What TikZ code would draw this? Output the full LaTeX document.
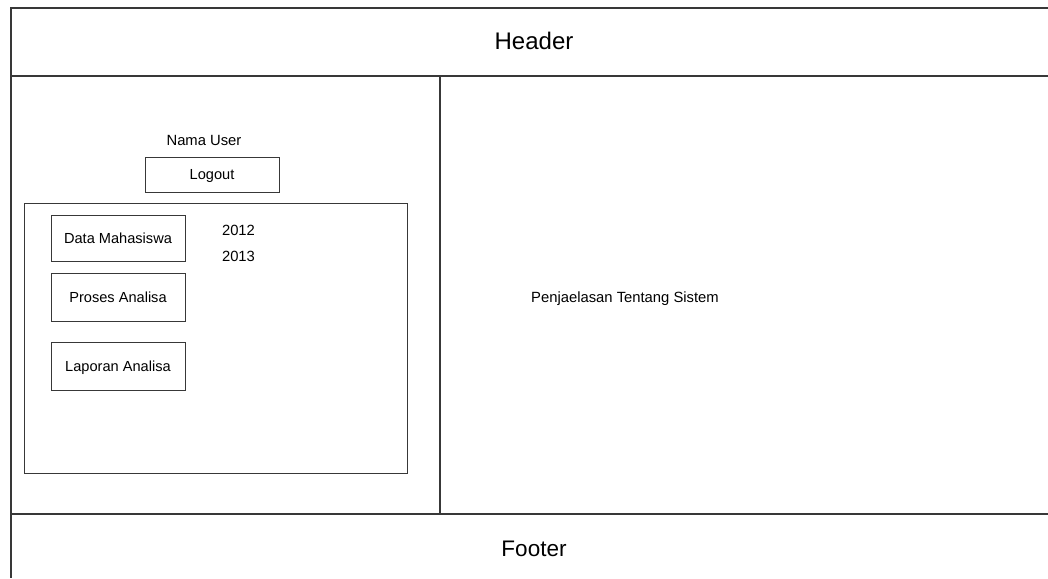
\documentclass[tikz,border=0pt]{standalone}
\usepackage{fontspec}
\setmainfont{Liberation Sans}
\begin{document}
\begin{tikzpicture}[x=1pt,y=-1pt,
  frameline/.style={draw=black!78,line width=1.1pt},
  wbox/.style={draw=black!78,line width=1pt,fill=white,inner sep=0pt,
    minimum width=134pt,font=\fontsize{14.6}{17}\selectfont,
    text height=10.5pt,text depth=0pt},
  lbl/.style={inner sep=0pt,font=\fontsize{14.8}{17}\selectfont,
    text height=10.6pt,text depth=0pt},
  big/.style={inner sep=0pt,font=\fontsize{24}{28}\selectfont,
    text height=17pt,text depth=0pt}]
\useasboundingbox (0,0) rectangle (1048,578);
\fill[white] (0,0) rectangle (1048,578);
% frame lines
\draw[frameline] (1048,8) -- (11,8) -- (11,578);
\draw[frameline] (11,76) -- (1048,76);
\draw[frameline] (11,514) -- (1048,514);
\draw[frameline] (440,76) -- (440,514);
% inner menu panel
\draw[draw=black!78,line width=1pt] (24,203) rectangle (407,473);
% texts
\node[big] (header) at (534,41) {Header};
\node[big,font=\fontsize{22.5}{26}\selectfont,text height=16pt] (footer) at (534,548) {Footer};
\node[lbl] (nama) at (204,140) {Nama User};
\node[lbl] (desc) at (625,297) {Penjaelasan Tentang Sistem};
\node[lbl] (y2012) at (238.5,230) {2012};
\node[lbl] (y2013) at (238.5,256) {2013};
% buttons
\node[wbox,minimum height=35pt] (logout) at (212,174.5) {Logout};
\node[wbox,minimum height=46pt] (data) at (118,238) {Data Mahasiswa};
\node[wbox,minimum height=48pt] (proses) at (118,297) {Proses Analisa};
\node[wbox,minimum height=48pt] (laporan) at (118,366) {Laporan Analisa};
\end{tikzpicture}
\end{document}
